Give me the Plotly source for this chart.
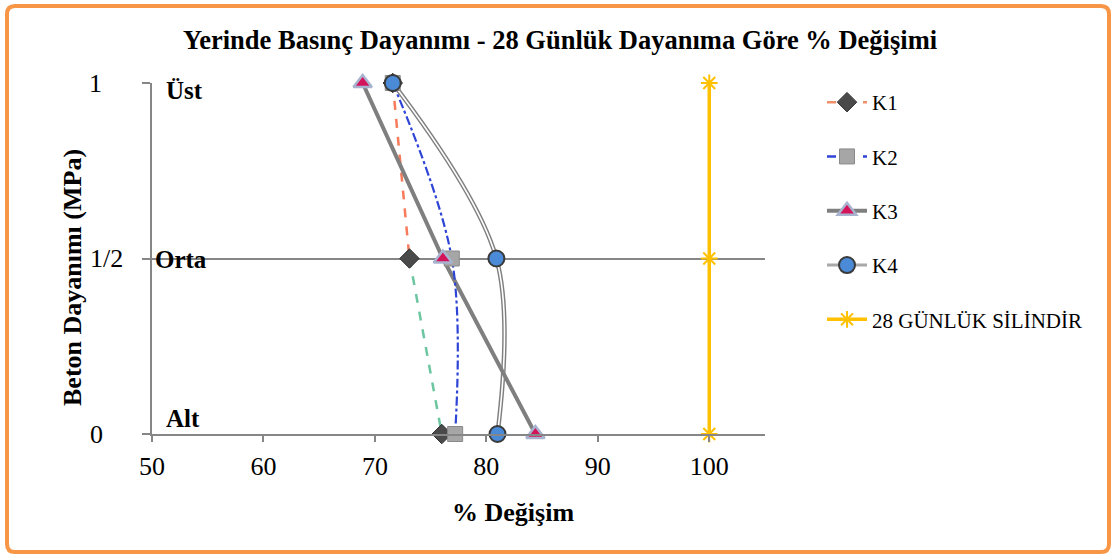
import plotly.graph_objects as go

# Levels along the specimen height (0 = Alt, 1/2 = Orta, 1 = Üst)
levels = [1, 0.5, 0]
level_ticks = ["1", "1/2", "0"]
level_names = ["Üst", "Orta", "Alt"]

# % change of in-situ strength relative to 28-day strength
k1 = [71.6, 73.1, 76.0]
k2 = [71.6, 76.9, 77.2]
k3 = [68.9, 76.1, 84.4]
k4 = [71.6, 80.9, 81.0]
silindir = [100, 100, 100]

W, H = 1115, 558
L, R, T, B = 152, 350, 83, 124
PW, PH = W - L - R, H - T - B

def px_x(p):
    return (p - L) / PW

def px_y(p):
    return (H - B - p) / PH

SERIF = "Liberation Serif, Times New Roman, serif"
GRID = "#868686"

fig = go.Figure()

# K1: dashed line with shifting colour, drawn per segment
fig.add_trace(go.Scatter(x=k1[:2], y=levels[:2], mode="lines", showlegend=False,
                         line=dict(color="#f77a5a", width=2.5, dash="dash"),
                         hoverinfo="skip", cliponaxis=False))
fig.add_trace(go.Scatter(x=k1[1:], y=levels[1:], mode="lines", showlegend=False,
                         line=dict(color="#6cc6a0", width=2.5, dash="dash"),
                         hoverinfo="skip", cliponaxis=False))

# K4: double grey line (wide grey under a thin white)
fig.add_trace(go.Scatter(x=k4, y=levels, mode="lines", showlegend=False,
                         line=dict(color="#7f7f7f", width=4.5, shape="spline"),
                         hoverinfo="skip", cliponaxis=False))
fig.add_trace(go.Scatter(x=k4, y=levels, mode="lines", showlegend=False,
                         line=dict(color="white", width=1.6, shape="spline"),
                         hoverinfo="skip", cliponaxis=False))

# K3: thick solid grey line
fig.add_trace(go.Scatter(x=k3, y=levels, mode="lines", showlegend=False,
                         line=dict(color="#7f7f7f", width=4),
                         hoverinfo="skip", cliponaxis=False))

# K2: blue dash-dot smoothed line
fig.add_trace(go.Scatter(x=k2, y=levels, mode="lines", showlegend=False,
                         line=dict(color="#2f45d6", width=2.2, dash="dashdot", shape="spline"),
                         hoverinfo="skip", cliponaxis=False))

# 28-day cylinder reference line
silindir_line = dict(color="#ffc000", width=3.5)
silindir_marker = dict(symbol="asterisk-open", size=14, line=dict(color="#8c8c8c", width=2))
fig.add_trace(go.Scatter(x=silindir, y=levels, mode="lines+markers", showlegend=False,
                         line=silindir_line, marker=silindir_marker, cliponaxis=False))

# Markers for K1..K4
markers = {
    "K1": dict(symbol="diamond", size=15, color="#4a4a4a", line=dict(color="#303030", width=1)),
    "K2": dict(symbol="square", size=15, color="#a6a6a6", line=dict(color="#8a8a8a", width=1)),
    "K3": dict(symbol="triangle-up", size=16, color="#d4145a", line=dict(color="#a7b3cf", width=2.5)),
    "K4": dict(symbol="circle", size=16, color="#4a8ad6", line=dict(color="#3a3a3a", width=2)),
}
for name, xs in zip(["K1", "K2", "K3", "K4"], [k1, k2, k3, k4]):
    fig.add_trace(go.Scatter(x=xs, y=levels, mode="markers", showlegend=False,
                             marker=markers[name], cliponaxis=False))

# Legend entries: line style + marker for each series
legend_lines = {
    "K1": dict(color="#f0906a", width=2.5, dash="dash"),
    "K2": dict(color="#2f45d6", width=2.5, dash="dash"),
    "K3": dict(color="#7f7f7f", width=4),
    "K4": dict(color="#a8a8a8", width=3),
}
for i, name in enumerate(["K1", "K2", "K3", "K4"]):
    fig.add_trace(go.Scatter(x=[None], y=[None], mode="lines+markers", name=name,
                             line=legend_lines[name], marker=markers[name],
                             legendgroup=f"g{i}"))
fig.add_trace(go.Scatter(x=[None], y=[None], mode="lines+markers", name="28 GÜNLÜK SİLİNDİR",
                         line=silindir_line, marker=silindir_marker, legendgroup="g4"))

annotations = [
    dict(text="<b>Yerinde Basınç Dayanımı - 28 Günlük Dayanıma Göre % Değişimi</b>",
         xref="paper", yref="paper", x=px_x(560), y=px_y(40), showarrow=False,
         xanchor="center", yanchor="middle", font=dict(family=SERIF, size=26.5, color="black")),
    dict(text="<b>% Değişim</b>", xref="paper", yref="paper", x=px_x(513), y=px_y(512),
         showarrow=False, xanchor="center", yanchor="middle",
         font=dict(family=SERIF, size=26, color="black")),
    dict(text="<b>Beton Dayanımı (MPa)</b>", xref="paper", yref="paper", x=px_x(72),
         y=px_y(278), textangle=-90, showarrow=False, xanchor="center", yanchor="middle",
         font=dict(family=SERIF, size=26, color="black")),
]
tick_x = {"1": 95, "1/2": 106, "0": 96}
for lv, tk in zip(levels, level_ticks):
    annotations.append(dict(text=tk, xref="paper", yref="y", x=px_x(tick_x[tk]), y=lv,
                            showarrow=False, xanchor="center", yanchor="middle",
                            font=dict(family=SERIF, size=26, color="black")))
name_pos = {"Üst": (164, 91), "Orta": (153, 259), "Alt": (164, 418)}
for nm in level_names:
    xp, yp = name_pos[nm]
    annotations.append(dict(text=f"<b>{nm}</b>", xref="paper", yref="paper",
                            x=px_x(xp), y=px_y(yp), xanchor="left", yanchor="middle",
                            showarrow=False, font=dict(family=SERIF, size=25, color="black")))

# Rounded orange frame around the whole figure
def frame_path(x0, y0, x1, y1, r):
    rx, ry = r / PW, r / PH
    X0, X1 = px_x(x0), px_x(x1)
    Y0, Y1 = px_y(y0), px_y(y1)
    return (f"M {X0+rx},{Y0} L {X1-rx},{Y0} Q {X1},{Y0} {X1},{Y0-ry} "
            f"L {X1},{Y1+ry} Q {X1},{Y1} {X1-rx},{Y1} L {X0+rx},{Y1} "
            f"Q {X0},{Y1} {X0},{Y1+ry} L {X0},{Y0-ry} Q {X0},{Y0} {X0+rx},{Y0} Z")

shapes = [dict(type="path", xref="paper", yref="paper",
               path=frame_path(7, 6, 1109, 552, 8),
               line=dict(color="#f79646", width=4), layer="above")]

fig.update_layout(
    width=W, height=H,
    margin=dict(l=L, r=R, t=T, b=B),
    paper_bgcolor="white", plot_bgcolor="white",
    annotations=annotations, shapes=shapes,
    legend=dict(x=px_x(822), y=px_y(82), xanchor="left", yanchor="top",
                font=dict(family=SERIF, size=21, color="black"),
                tracegroupgap=24, traceorder="grouped", itemwidth=40,
                bgcolor="rgba(0,0,0,0)"),
    xaxis=dict(range=[50, 105], tickvals=[50, 60, 70, 80, 90, 100],
               showgrid=False, zeroline=False, showline=True, linecolor=GRID, linewidth=2,
               ticks="outside", ticklen=6, tickcolor=GRID, tickwidth=2,
               ticklabelstandoff=2,
               tickfont=dict(family=SERIF, size=26, color="black")),
    yaxis=dict(range=[0, 1], tickvals=levels, showticklabels=False,
               showgrid=True, gridcolor=GRID, gridwidth=2, zeroline=False,
               showline=True, linecolor=GRID, linewidth=2,
               ticks="outside", ticklen=8, tickcolor=GRID, tickwidth=2),
    showlegend=True,
)

fig.write_html("out.html")
